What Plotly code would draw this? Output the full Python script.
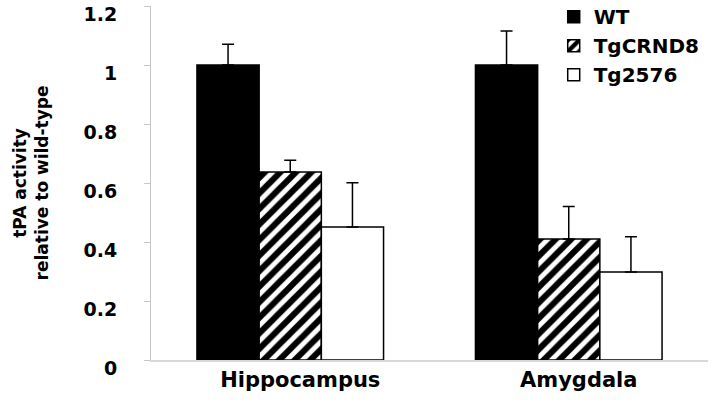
import plotly.graph_objects as go

categories = ["Hippocampus", "Amygdala"]
series_names = ["WT", "TgCRND8", "Tg2576"]
wt_values = [1.0, 1.0]
wt_errors = [0.07, 0.115]
crnd8_values = [0.637, 0.41]
crnd8_errors = [0.04, 0.11]
tg2576_values = [0.451, 0.298]
tg2576_errors = [0.15, 0.12]
y_ticks = [0, 0.2, 0.4, 0.6, 0.8, 1, 1.2]
y_tick_labels = ["0", "0.2", "0.4", "0.6", "0.8", "1", "1.2"]

FONT = "DejaVu Sans, sans-serif"

def err(arr):
    return dict(type="data", symmetric=False, array=arr, arrayminus=[0] * len(arr),
                color="black", thickness=1.5, width=6)

fig = go.Figure()
fig.add_trace(go.Bar(
    name=series_names[0], x=categories, y=wt_values, error_y=err(wt_errors),
    marker=dict(color="black", line=dict(color="black", width=1.5)),
))
fig.add_trace(go.Bar(
    name=series_names[1], x=categories, y=crnd8_values, error_y=err(crnd8_errors),
    marker=dict(color="white", line=dict(color="black", width=1.5),
                pattern=dict(shape="/", fgcolor="black", bgcolor="white", fgopacity=1,
                             size=11, solidity=0.55)),
))
fig.add_trace(go.Bar(
    name=series_names[2], x=categories, y=tg2576_values, error_y=err(tg2576_errors),
    marker=dict(color="white", line=dict(color="black", width=1.5)),
))

fig.update_layout(
    width=720, height=407,
    margin=dict(l=151, r=12, t=6, b=47, autoexpand=False),
    paper_bgcolor="white", plot_bgcolor="white",
    barmode="group", bargap=0.33, bargroupgap=0,
    font=dict(family=FONT, size=19, color="black", weight="bold"),
    showlegend=True,
    legend=dict(x=0.723, y=1.025, xanchor="left", yanchor="top",
                bgcolor="rgba(0,0,0,0)", font=dict(size=20, family=FONT, weight="bold"),
                tracegroupgap=6, itemwidth=30),
    xaxis=dict(showline=True, linecolor="#d8d8d8", linewidth=1.5, ticks="",
               ticklabelshift=10,
               tickfont=dict(size=21, family=FONT, weight="bold"), showgrid=False),
    yaxis=dict(range=[0, 1.2], tickvals=y_ticks, ticktext=y_tick_labels,
               showline=True, linecolor="#c8c8c8", linewidth=1, ticks="outside",
               tickcolor="#c8c8c8", ticklen=6, showgrid=False, zeroline=False,
               ticklabelstandoff=23, ticklabelshift=8, ticklabeloverflow="allow",
               tickfont=dict(size=19, family=FONT, weight="bold"),
               title=dict(text="tPA activity<br>relative to wild-type",
                          font=dict(size=17, family=FONT, weight="bold"), standoff=30)),
)

fig.write_html("out.html", config={"displayModeBar": False},
               post_script="document.body.style.margin='0';")
